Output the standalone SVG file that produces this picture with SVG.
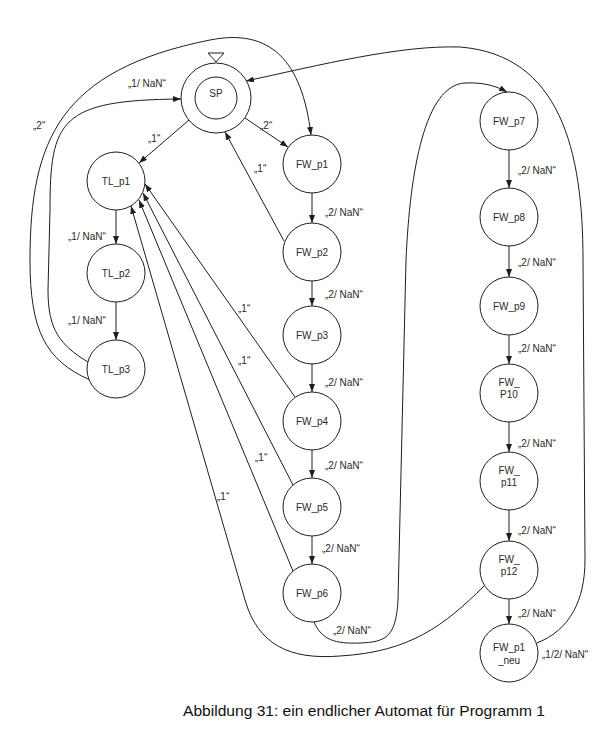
<svg xmlns="http://www.w3.org/2000/svg" width="600" height="730" viewBox="0 0 600 730">
<defs>
<marker id="arr" markerUnits="userSpaceOnUse" markerWidth="9" markerHeight="7" refX="8" refY="3" orient="auto">
<path d="M0,0 L8,3 L0,6 z" fill="#1e1e1e"/>
</marker>
<style>
.n{fill:#fff;stroke:#1e1e1e;stroke-width:1}
.t{font-family:"Liberation Sans",Arial,sans-serif;font-size:10px;fill:#2a2a2a;text-anchor:middle}
.l{font-family:"Liberation Sans",Arial,sans-serif;font-size:10px;fill:#2a2a2a}
.e{fill:none;stroke:#1e1e1e;stroke-width:1}
.a{marker-end:url(#arr)}
.cap{font-family:"Liberation Sans",Arial,sans-serif;font-size:14px;fill:#111}
</style>
</defs>
<rect width="600" height="730" fill="#fff"/>
<g id="connectors">
<path class="e a" d="M189,120 L139,163"/>
<path class="e a" d="M245,118 L288,147"/>
<path class="e a" d="M284,241 L225,132"/>
<path class="e a" d="M88,362 C60,345 48,330 48,290 L50,210 C50,120 60,100 181,99"/>
<path class="e a" d="M90,380 C45,360 30,330 30,260 C30,140 60,70 210,40 C270,28 302,60 311,135"/>
<path class="e a" d="M116,210 L116,244"/>
<path class="e a" d="M116,302 L116,340"/>
<path class="e a" d="M312,193 L312,223"/>
<path class="e a" d="M312,281 L312,306"/>
<path class="e a" d="M312,364 L312,392"/>
<path class="e a" d="M312,450 L312,478"/>
<path class="e a" d="M312,536 L312,564"/>
<path class="e a" d="M295,397 L145,184"/>
<path class="e a" d="M293,485 L143,193"/>
<path class="e a" d="M293,571 L139,200"/>
<path class="e a" d="M484,586 C445,625 410,652 340,656 C290,660 258,645 245,600 L131,206"/>
<path class="e a" d="M314,622 C322,640 335,644 360,643 C385,642 396,638 398,600 L406,260 C410,170 425,85 465,83 C485,82 498,87 507,92"/>
<path class="e a" d="M537,643 C570,630 585,600 585,560 L583,260 C583,150 560,55 460,47 C400,45 320,65 246,81"/>
<path class="e a" d="M509,150 L509,188"/>
<path class="e a" d="M509,246 L509,277"/>
<path class="e a" d="M509,335 L509,364"/>
<path class="e a" d="M509,422 L509,452"/>
<path class="e a" d="M509,510 L509,541"/>
<path class="e a" d="M509,599 L509,624"/>
<text class="l" x="128" y="87">„1/ NaN“</text>
<text class="l" x="33" y="129">„2“</text>
<text class="l" x="148" y="142">„1“</text>
<text class="l" x="260" y="129">„2“</text>
<text class="l" x="254" y="172">„1“</text>
<text class="l" x="68" y="240">„1/ NaN“</text>
<text class="l" x="68" y="324">„1/ NaN“</text>
<text class="l" x="325" y="216">„2/ NaN“</text>
<text class="l" x="325" y="298">„2/ NaN“</text>
<text class="l" x="325" y="386">„2/ NaN“</text>
<text class="l" x="325" y="469">„2/ NaN“</text>
<text class="l" x="322" y="552">„2/ NaN“</text>
<text class="l" x="333" y="634">„2/ NaN“</text>
<text class="l" x="238" y="312">„1“</text>
<text class="l" x="238" y="364">„1“</text>
<text class="l" x="255" y="461">„1“</text>
<text class="l" x="217" y="500">„1“</text>
<text class="l" x="518" y="174">„2/ NaN“</text>
<text class="l" x="518" y="266">„2/ NaN“</text>
<text class="l" x="518" y="352">„2/ NaN“</text>
<text class="l" x="518" y="447">„2/ NaN“</text>
<text class="l" x="518" y="534">„2/ NaN“</text>
<text class="l" x="518" y="617">„2/ NaN“</text>
<text class="l" x="542" y="658">„1/2/ NaN“</text>
</g>
<g id="SP">
<polygon points="208,53 224,53 216,62" fill="#fff" stroke="#1e1e1e"/>
<circle class="n" cx="216" cy="98" r="35"/>
<circle class="n" cx="216" cy="98" r="21"/>
<text class="t" x="216" y="97">SP</text>
</g>
<g id="TL_p1"><circle class="n" cx="116" cy="181" r="29"/><text class="t" x="116" y="185">TL_p1</text></g>
<g id="TL_p2"><circle class="n" cx="116" cy="273" r="29"/><text class="t" x="116" y="277">TL_p2</text></g>
<g id="TL_p3"><circle class="n" cx="116" cy="369" r="29"/><text class="t" x="116" y="373">TL_p3</text></g>
<g id="FW_p1"><circle class="n" cx="312" cy="164" r="29"/><text class="t" x="312" y="168">FW_p1</text></g>
<g id="FW_p2"><circle class="n" cx="312" cy="252" r="29"/><text class="t" x="312" y="256">FW_p2</text></g>
<g id="FW_p3"><circle class="n" cx="312" cy="335" r="29"/><text class="t" x="312" y="339">FW_p3</text></g>
<g id="FW_p4"><circle class="n" cx="312" cy="421" r="29"/><text class="t" x="312" y="425">FW_p4</text></g>
<g id="FW_p5"><circle class="n" cx="312" cy="507" r="29"/><text class="t" x="312" y="511">FW_p5</text></g>
<g id="FW_p6"><circle class="n" cx="312" cy="593" r="29"/><text class="t" x="312" y="597">FW_p6</text></g>
<g id="FW_p7"><circle class="n" cx="509" cy="121" r="29"/><text class="t" x="509" y="125">FW_p7</text></g>
<g id="FW_p8"><circle class="n" cx="509" cy="217" r="29"/><text class="t" x="509" y="221">FW_p8</text></g>
<g id="FW_p9"><circle class="n" cx="509" cy="306" r="29"/><text class="t" x="509" y="310">FW_p9</text></g>
<g id="FW_P10"><circle class="n" cx="509" cy="393" r="29"/><text class="t" x="509" y="386">FW_</text><text class="t" x="509" y="398">P10</text></g>
<g id="FW_p11"><circle class="n" cx="509" cy="481" r="29"/><text class="t" x="509" y="474">FW_</text><text class="t" x="509" y="486">p11</text></g>
<g id="FW_p12"><circle class="n" cx="509" cy="570" r="29"/><text class="t" x="509" y="563">FW_</text><text class="t" x="509" y="575">p12</text></g>
<g id="FW_p1_neu"><circle class="n" cx="509" cy="653" r="29"/><text class="t" x="509" y="651">FW_p1</text><text class="t" x="509" y="664">_neu</text></g>
<text class="cap" x="183" y="716" textLength="362" lengthAdjust="spacingAndGlyphs">Abbildung 31: ein endlicher Automat für Programm 1</text>
</svg>
